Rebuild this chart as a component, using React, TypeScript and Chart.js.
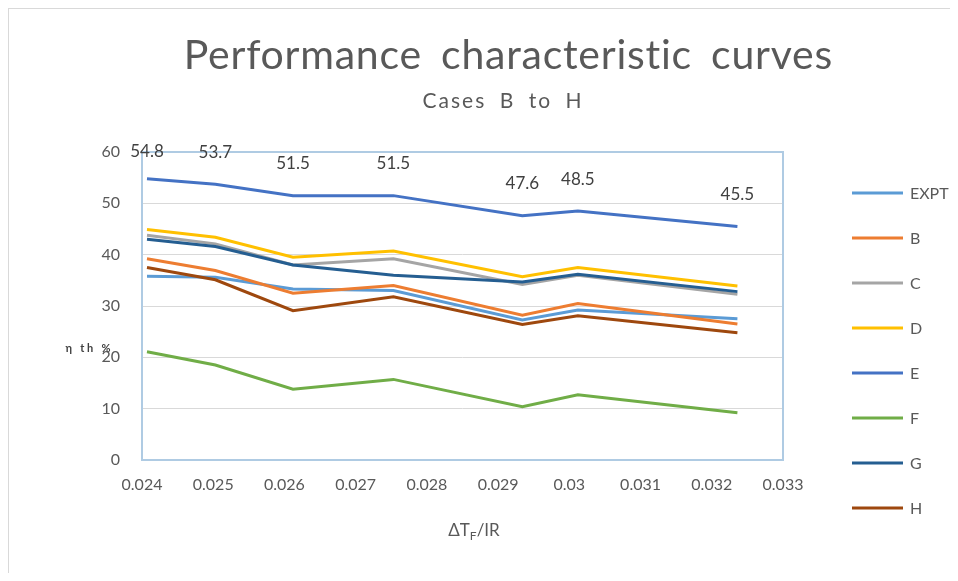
import React, { useEffect, useRef } from 'react';
import { Chart, registerables } from 'chart.js';

Chart.register(...registerables);

const titleText = 'Performance characteristic curves';
const subtitleText = 'Cases B to H';
const yAxisTitle = 'η th %';
const seriesNames = ['EXPT', 'B', 'C', 'D', 'E', 'F', 'G', 'H'];
const seriesColors = ['#5B9BD5', '#ED7D31', '#A5A5A5', '#FFC000', '#4472C4', '#70AD47', '#255E91', '#9E480E'];
const xValues = [0.02407, 0.02503, 0.02612, 0.02753, 0.02934, 0.03012, 0.03236];
const exptValues = [35.8, 35.6, 33.3, 33.0, 27.3, 29.2, 27.5];
const bValues = [39.2, 36.9, 32.5, 34.0, 28.2, 30.5, 26.5];
const cValues = [43.8, 42.1, 38.0, 39.2, 34.2, 36.0, 32.3];
const dValues = [44.9, 43.4, 39.5, 40.7, 35.7, 37.5, 33.9];
const eValues = [54.8, 53.7, 51.5, 51.5, 47.6, 48.5, 45.5];
const fValues = [21.1, 18.5, 13.8, 15.7, 10.4, 12.7, 9.2];
const gValues = [43.0, 41.6, 38.0, 36.0, 34.7, 36.2, 32.8];
const hValues = [37.5, 35.1, 29.1, 31.8, 26.4, 28.1, 24.8];
const xTickLabels = ['0.024', '0.025', '0.026', '0.027', '0.028', '0.029', '0.03', '0.031', '0.032', '0.033'];
const labeledSeries = 4;

const allValues = [exptValues, bValues, cValues, dValues, eValues, fValues, gValues, hValues];

const FONT = 'Lato, "Open Sans", sans-serif';

function fitSpaced(ctx: any, text: string, wordGap: number, targetWidth: number) {
  ctx.wordSpacing = `${wordGap}px`;
  ctx.letterSpacing = '0px';
  const w = ctx.measureText(text).width;
  const sp = (targetWidth - w) / text.length;
  ctx.letterSpacing = `${sp.toFixed(2)}px`;
  return sp;
}

const decorPlugin = {
  id: 'decor',
  beforeDatasetsDraw(chart: any) {
    const { ctx, chartArea } = chart;
    ctx.save();
    ctx.strokeStyle = '#AFCBE3';
    ctx.lineWidth = 2;
    ctx.strokeRect(chartArea.left, chartArea.top, chartArea.right - chartArea.left, chartArea.bottom - chartArea.top);
    ctx.restore();
  },
  afterDraw(chart: any) {
    const { ctx, chartArea } = chart;
    ctx.save();
    // title
    ctx.fillStyle = '#595959';
    ctx.textAlign = 'center';
    ctx.textBaseline = 'middle';
    ctx.font = `400 41px ${FONT}`;
    let sp = fitSpaced(ctx, titleText, 8, 650);
    ctx.fillText(titleText, 499 + sp / 2, 47);
    ctx.font = `21px ${FONT}`;
    sp = fitSpaced(ctx, subtitleText, 6, 161);
    ctx.fillText(subtitleText, 493 + sp / 2, 92);
    ctx.wordSpacing = '0px';

    // y axis title (tiny)
    ctx.font = `bold 11px ${FONT}`;
    ctx.fillStyle = '#404040';
    sp = fitSpaced(ctx, yAxisTitle, 0, 48);
    ctx.fillText(yAxisTitle, 79 + sp / 2, 339);
    ctx.letterSpacing = '0px';

    // x axis title with subscript
    ctx.fillStyle = '#595959';
    ctx.textAlign = 'left';
    ctx.textBaseline = 'alphabetic';
    const big = `17px ${FONT}`;
    const small = `12px ${FONT}`;
    ctx.font = big;
    const w1 = ctx.measureText('ΔT').width;
    const w3 = ctx.measureText('/IR').width;
    ctx.font = small;
    const w2 = ctx.measureText('F').width;
    const total = w1 + w2 + w3;
    let x = 465 - total / 2;
    const base = 527;
    ctx.font = big;
    ctx.fillText('ΔT', x, base);
    x += w1;
    ctx.font = small;
    ctx.fillText('F', x, base + 4);
    x += w2;
    ctx.font = big;
    ctx.fillText('/IR', x, base);

    // data labels for E
    const meta = chart.getDatasetMeta(labeledSeries);
    ctx.font = `17px ${FONT}`;
    ctx.fillStyle = '#404040';
    ctx.textAlign = 'center';
    ctx.textBaseline = 'middle';
    meta.data.forEach((pt: any, i: number) => {
      const y = Math.max(pt.y - 32, chartArea.top);
      ctx.fillText(allValues[labeledSeries][i].toFixed(1), pt.x, y);
    });

    // legend
    ctx.textAlign = 'left';
    ctx.font = `16px ${FONT}`;
    chart.data.datasets.forEach((ds: any, i: number) => {
      const y = 184 + 45 * i;
      ctx.strokeStyle = ds.borderColor;
      ctx.lineWidth = 3;
      ctx.beginPath();
      ctx.moveTo(843, y);
      ctx.lineTo(894, y);
      ctx.stroke();
      ctx.fillStyle = '#595959';
      ctx.fillText(ds.label, 901, y + 1);
    });
    ctx.restore();
  },
};

export default function App() {
  const ref = useRef<HTMLCanvasElement | null>(null);
  useEffect(() => {
    if (!ref.current) return;
    const datasets = seriesNames.map((name, i) => ({
      label: name,
      data: xValues.map((x, j) => ({ x, y: allValues[i][j] })),
      borderColor: seriesColors[i],
      backgroundColor: seriesColors[i],
      borderWidth: 3,
      pointRadius: 0,
      tension: 0,
      fill: false,
      order: seriesNames.length - i,
    }));
    const chart = new Chart(ref.current, {
      type: 'line',
      data: { datasets },
      options: {
        animation: false,
        responsive: false,
        maintainAspectRatio: false,
        devicePixelRatio: 1,
        layout: { padding: { top: 143, right: 175, bottom: 0, left: 0 } },
        plugins: {
          legend: { display: false },
          title: { display: false },
          tooltip: { enabled: false },
        },
        scales: {
          x: {
            type: 'linear',
            min: 0.024,
            max: 0.033,
            afterFit(scale: any) {
              scale.height = 113;
            },
            afterBuildTicks(scale: any) {
              scale.ticks = xTickLabels.map((t) => ({ value: parseFloat(t) }));
            },
            grid: { display: false, drawTicks: false },
            border: { display: false },
            ticks: {
              padding: 15,
              color: '#595959',
              font: { family: FONT, size: 16 },
              maxRotation: 0,
              autoSkip: false,
              callback: (_v: any, i: number) => xTickLabels[i],
            },
          },
          y: {
            min: 0,
            max: 60,
            afterFit(scale: any) {
              scale.width = 133;
            },
            grid: {
              drawTicks: false,
              color: (c: any) => (c.tick && (c.tick.value === 0 || c.tick.value === 60) ? 'rgba(0,0,0,0)' : '#D9D9D9'),
              lineWidth: 1,
            },
            border: { display: false },
            ticks: {
              stepSize: 10,
              padding: 22,
              color: '#595959',
              font: { family: FONT, size: 16 },
            },
          },
        },
      },
      plugins: [decorPlugin],
    });
    return () => chart.destroy();
  }, []);
  return (
    <div style={{ borderLeft: '1px solid #D9D9D9', borderTop: '1px solid #D9D9D9', width: 949, height: 564, background: '#fff' }}>
      <canvas ref={ref} width={949} height={564} style={{ display: 'block' }} />
    </div>
  );
}
